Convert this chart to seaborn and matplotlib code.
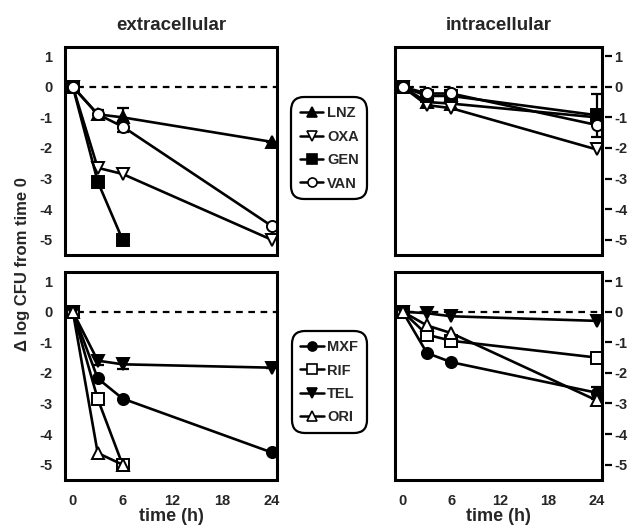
import matplotlib
matplotlib.use('Agg')
import matplotlib.pyplot as plt
from matplotlib.patches import Rectangle
from matplotlib.lines import Line2D
import seaborn as sns

# 时间点 (h)
time = [0, 3, 6, 24]
time_short = [0, 3, 6]

# 上排：LNZ, OXA, GEN, VAN
ext_lnz = [0, -0.9, -1.0, -1.8]
ext_oxa = [0, -2.65, -2.85, -5.0]
ext_gen = [0, -3.1, -5.0]
ext_van = [0, -0.9, -1.3, -4.55]
int_lnz = [0, -0.5, -0.55, -1.0]
int_oxa = [0, -0.6, -0.7, -2.05]
int_gen = [0, -0.3, -0.3, -0.93]
int_van = [0, -0.22, -0.22, -1.25]

# 下排：MXF, RIF, TEL, ORI
ext_mxf = [0, -2.18, -2.84, -4.6]
ext_rif = [0, -2.85, -5.0]
ext_tel = [0, -1.6, -1.72, -1.83]
ext_ori = [0, -4.62, -5.0]
int_mxf = [0, -1.35, -1.65, -2.65]
int_rif = [0, -0.75, -0.95, -1.5]
int_tel = [0, -0.05, -0.15, -0.3]
int_ori = [0, -0.45, -0.7, -2.9]

# 误差棒 (标准差)
ext_lnz_err = [0, 0, 0.3, 0]
ext_van_err = [0, 0.15, 0.18, 0]
int_gen_err = [0, 0, 0, 0.7]
ext_tel_err = [0, 0.15, 0.15, 0]
int_mxf_err = [0, 0, 0, 0.2]

top_names = ['LNZ', 'OXA', 'GEN', 'VAN']
bottom_names = ['MXF', 'RIF', 'TEL', 'ORI']
x_ticks = [0, 6, 12, 18, 24]
y_ticks = [1, 0, -1, -2, -3, -4, -5]

sns.set_style('white')
plt.rcParams['font.family'] = ['Liberation Sans', 'DejaVu Sans']
plt.rcParams['font.weight'] = 'bold'
plt.rcParams['axes.unicode_minus'] = False

styles = {
    'LNZ': dict(marker='^', markerfacecolor='black'),
    'OXA': dict(marker='v', markerfacecolor='white'),
    'GEN': dict(marker='s', markerfacecolor='black'),
    'VAN': dict(marker='o', markerfacecolor='white'),
    'MXF': dict(marker='o', markerfacecolor='black'),
    'RIF': dict(marker='s', markerfacecolor='white'),
    'TEL': dict(marker='v', markerfacecolor='black'),
    'ORI': dict(marker='^', markerfacecolor='white'),
}

fig = plt.figure(figsize=(6.31, 5.28), dpi=100)
w, h = 0.336, 0.394
ax_tl = fig.add_axes([0.103, 0.517, w, h])
ax_tr = fig.add_axes([0.626, 0.517, 0.328, h])
ax_bl = fig.add_axes([0.103, 0.091, w, h])
ax_br = fig.add_axes([0.626, 0.091, 0.328, h])


def draw(ax, x, y, name, err=None):
    st = styles[name]
    if err is not None:
        ax.errorbar(x, y, yerr=err, fmt='none', ecolor='black', elinewidth=1.6,
                    capsize=4.5, capthick=1.6, zorder=2)
    sns.lineplot(x=x, y=y, ax=ax, color='black', linewidth=1.9,
                 markersize=8, markeredgecolor='black', markeredgewidth=1.4,
                 zorder=3, **st)


draw(ax_tl, time, ext_lnz, 'LNZ', ext_lnz_err)
draw(ax_tl, time, ext_oxa, 'OXA')
draw(ax_tl, time_short, ext_gen, 'GEN')
draw(ax_tl, time, ext_van, 'VAN', ext_van_err)

draw(ax_tr, time, int_lnz, 'LNZ')
draw(ax_tr, time, int_oxa, 'OXA')
draw(ax_tr, time, int_gen, 'GEN', int_gen_err)
draw(ax_tr, time, int_van, 'VAN')

draw(ax_bl, time, ext_mxf, 'MXF')
draw(ax_bl, time_short, ext_rif, 'RIF')
draw(ax_bl, time, ext_tel, 'TEL', ext_tel_err)
draw(ax_bl, time_short, ext_ori, 'ORI')

draw(ax_br, time, int_mxf, 'MXF', int_mxf_err)
draw(ax_br, time, int_rif, 'RIF')
draw(ax_br, time, int_tel, 'TEL')
draw(ax_br, time, int_ori, 'ORI')

for ax in [ax_tl, ax_tr, ax_bl, ax_br]:
    ax.axhline(0, color='black', linestyle=(0, (3, 2.5)), linewidth=1.6, zorder=1)
    ax.set_xlim(-0.95, 24.65)
    ax.set_ylim(-5.5, 1.3)
    ax.set_xticks(x_ticks)
    ax.set_yticks(y_ticks)
    ax.set_xlabel('')
    ax.set_ylabel('')
    for s in ax.spines.values():
        s.set_visible(False)
    ax.add_patch(Rectangle((0, 0), 1, 1, transform=ax.transAxes, fill=False,
                           edgecolor='black', linewidth=2.2, zorder=5, clip_on=False))
    ax.tick_params(axis='both', direction='out', length=5, width=1.6, pad=2,
                   labelsize=10.5, color='black')
    ax.spines['bottom'].set_visible(True)
    ax.spines['bottom'].set_color('none')
    ax.spines['bottom'].set_position(('outward', 3))
    for lab in ax.get_xticklabels() + ax.get_yticklabels():
        lab.set_fontweight('bold')

for ax in [ax_tl, ax_bl]:
    ax.spines['left'].set_visible(True)
    ax.spines['left'].set_color('none')
    ax.spines['left'].set_position(('outward', 2))
for ax in [ax_tr, ax_br]:
    ax.yaxis.tick_right()
    ax.spines['right'].set_visible(True)
    ax.spines['right'].set_color('none')
    ax.spines['right'].set_position(('outward', 2))

ax_tl.set_xticklabels([])
ax_tr.set_xticklabels([])
for ax in [ax_bl, ax_br]:
    ax.set_xlabel('time (h)', fontsize=13, fontweight='bold', labelpad=0)

ax_tl.set_title('extracellular', fontsize=13.5, fontweight='bold', pad=12)
ax_tr.set_title('intracellular', fontsize=13.5, fontweight='bold', pad=12)
fig.text(0.035, 0.5, 'Δ log CFU from time 0', rotation=90, ha='center', va='center',
         fontsize=12, fontweight='bold', family=['Liberation Sans', 'DejaVu Sans'])


def make_handles(names):
    return [Line2D([0], [0], color='black', linewidth=1.8, markersize=6.5,
                   markeredgecolor='black', markeredgewidth=1.2, **styles[n])
            for n in names]


for names, ycenter in [(top_names, 0.719), (bottom_names, 0.276)]:
    leg = fig.legend(make_handles(names), names, loc='center',
                     bbox_to_anchor=(0.522, ycenter), frameon=True, fancybox=True,
                     edgecolor='black', handlelength=1.6, handletextpad=0.25,
                     labelspacing=0.65, borderpad=0.6,
                     prop={'weight': 'bold', 'size': 10.5})
    frame = leg.get_frame()
    frame.set_linewidth(1.6)
    frame.set_alpha(1)
    frame.set_boxstyle('round', pad=0, rounding_size=0.9)

fig.savefig('out.png', dpi=100)
